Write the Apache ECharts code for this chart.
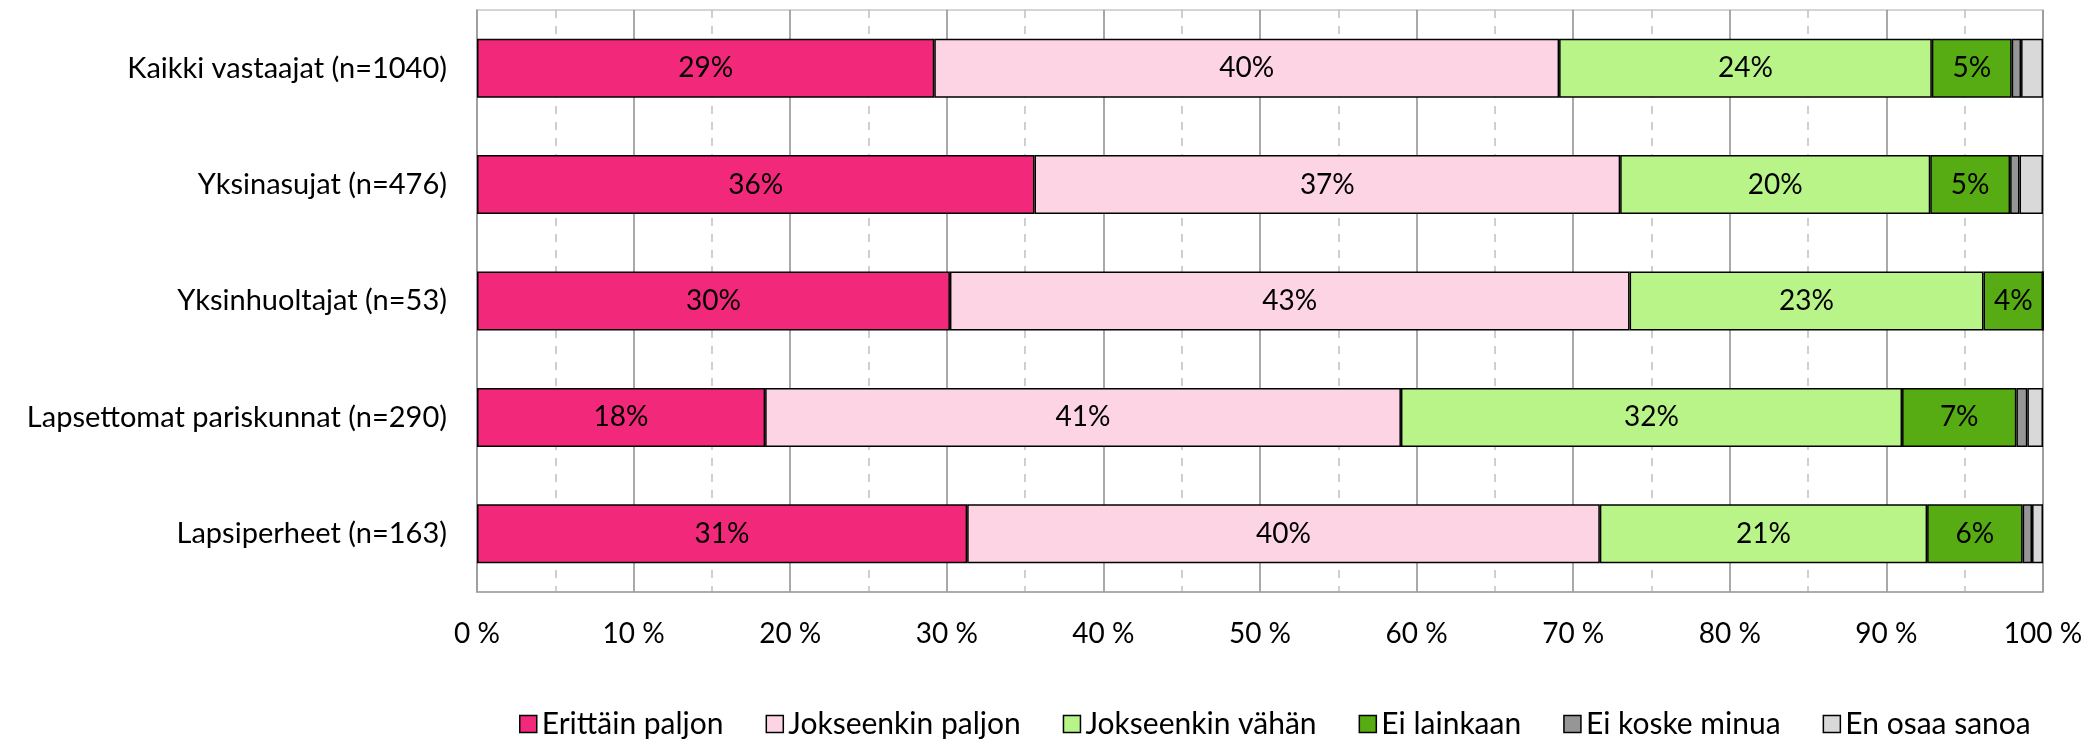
<!DOCTYPE html>
<html>
<head>
<meta charset="utf-8">
<title>Vastaajaryhmät</title>
<script src="https://cdn.jsdelivr.net/npm/echarts@6/dist/echarts.min.js"></script>
<style>
  html, body { margin: 0; padding: 0; background: #fff; }
  #chart { width: 2086px; height: 742px; }
</style>
</head>
<body>
<div id="chart"></div>
<script>
// Kategoriat (ylhäältä alas)
const categories = [
  'Kaikki vastaajat (n=1040)',
  'Yksinasujat (n=476)',
  'Yksinhuoltajat (n=53)',
  'Lapsettomat pariskunnat (n=290)',
  'Lapsiperheet (n=163)'
]

// Vastausvaihtoehdot ja osuudet (%)
const seriesNames = ['Erittäin paljon', 'Jokseenkin paljon', 'Jokseenkin vähän', 'Ei lainkaan', 'Ei koske minua', 'En osaa sanoa']
const erittainPaljon = [29.2, 35.6, 30.2, 18.4, 31.3]
const jokseenkinPaljon = [39.9, 37.4, 43.4, 40.6, 40.4]
const jokseenkinVahan = [23.8, 19.8, 22.6, 32.0, 20.9]
const eiLainkaan = [5.1, 5.1, 3.8, 7.3, 6.1]
const eiKoskeMinua = [0.6, 0.6, 0, 0.7, 0.6]
const enOsaaSanoa = [1.4, 1.5, 0, 1.0, 0.7]

const xTicks = [0, 10, 20, 30, 40, 50, 60, 70, 80, 90, 100]

const seriesData = [erittainPaljon, jokseenkinPaljon, jokseenkinVahan, eiLainkaan, eiKoskeMinua, enOsaaSanoa]
const colors = ['#F2297A', '#FCD4E4', '#B8F488', '#56AC12', '#969696', '#D9D9D9']

const FONT = 'Lato, "Noto Sans", sans-serif'

const chartInstance = echarts.init(document.getElementById('chart'))

const option = {
  animation: false,
  textStyle: { fontFamily: FONT },
  grid: {
    left: 477,
    right: 43,
    top: 10,
    bottom: 150,
    show: true,
    borderColor: '#C8C8C8',
    borderWidth: 1.5
  },
  legend: {
    left: 514,
    top: 704,
    itemWidth: 17,
    itemHeight: 17,
    itemGap: 42,
    icon: 'rect',
    itemStyle: { borderColor: '#000', borderWidth: 1.5 },
    textStyle: { fontSize: 30, color: '#000', fontFamily: FONT },
    data: seriesNames
  },
  xAxis: {
    type: 'value',
    min: 0,
    max: 100,
    interval: 10,
    axisLine: { show: true, lineStyle: { color: '#A0A0A0', width: 1.5 } },
    axisTick: { show: false },
    axisLabel: {
      margin: 28,
      fontSize: 28,
      color: '#000',
      fontFamily: FONT,
      formatter: (v) => (xTicks.includes(v) ? v + ' %' : '')
    },
    splitLine: { show: true, lineStyle: { color: '#8C8C8C', width: 1.5 } },
    minorTick: { show: false, splitNumber: 2 },
    minorSplitLine: { show: true, lineStyle: { color: '#C0C0C0', width: 1.5, type: [8, 8] } }
  },
  yAxis: {
    type: 'category',
    inverse: true,
    data: categories,
    axisLine: { show: true, lineStyle: { color: '#A0A0A0', width: 1.5 } },
    axisTick: { show: false },
    axisLabel: { margin: 30, fontSize: 29, color: '#000', fontFamily: FONT }
  },
  series: seriesNames.map((name, i) => ({
    name,
    type: 'bar',
    stack: 'total',
    barWidth: 59,
    data: seriesData[i],
    itemStyle: { color: colors[i], borderColor: '#000', borderWidth: 1.5 },
    label: {
      show: true,
      position: 'inside',
      fontSize: 28,
      color: '#000',
      fontFamily: FONT,
      formatter: (p) => (p.value >= 2 ? Math.round(p.value) + '%' : '')
    }
  }))
}

chartInstance.setOption(option)

window.addEventListener('resize', () => {
  chartInstance.resize()
})
</script>
</body>
</html>
